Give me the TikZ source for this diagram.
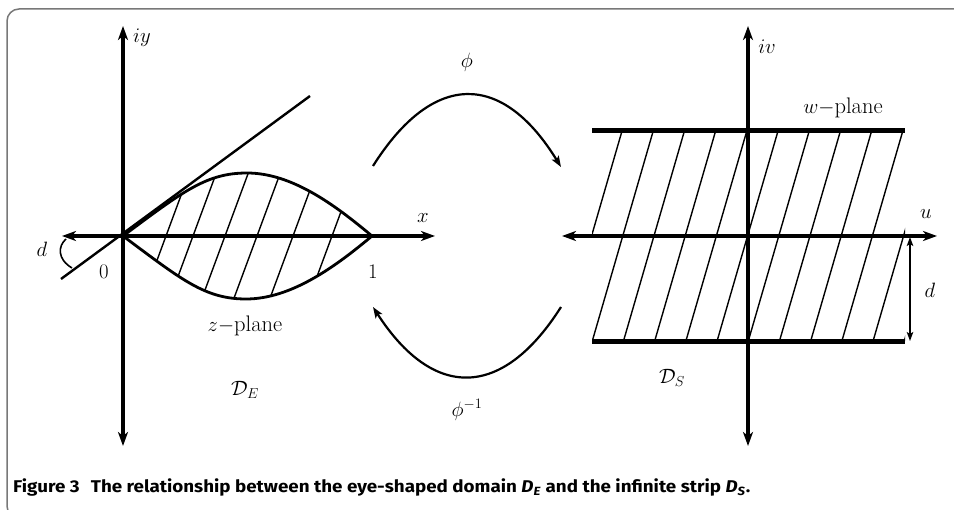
\documentclass[tikz,border=0pt]{standalone}
\usepackage{fontspec}
\usepackage{graphicx}
\usetikzlibrary{arrows.meta}
\newfontfamily\capfont{Fira Sans}
\definecolor{framegray}{RGB}{120,120,120}
\begin{document}
\begin{tikzpicture}[x=1pt,y=-1pt,
  lbl/.style={font=\fontsize{22.5}{26}\selectfont, inner sep=0pt},
  axisline/.style={line width=3.6pt, {Stealth[length=14pt,width=10pt,inset=4pt]}-{Stealth[length=14pt,width=10pt,inset=4pt]}},
  eyeline/.style={line width=2.8pt},
  hatchline/.style={line width=1.4pt},
  stripline/.style={line width=5pt},
  maparc/.style={line width=2.2pt, -{Stealth[length=11pt,width=8pt,inset=2.5pt]}},
  tanline/.style={line width=2.4pt},
  darrow/.style={line width=1.4pt, {Stealth[length=9pt,width=6.5pt,inset=2pt]}-{Stealth[length=9pt,width=6.5pt,inset=2pt]}}
]
\clip (0,0) rectangle (954,510);
\fill[white] (0,0) rectangle (954,510);
% frame
\draw[framegray, line width=1.5pt, rounded corners=12pt] (7,9) rectangle (980,518);

% ---------- left plane ----------
\coordinate (O) at (123,236);
\coordinate (E1) at (372,236);
\coordinate (Top) at (247,173);
\coordinate (Bot) at (246,299);
\coordinate (LyT) at (123,26);
\coordinate (LyB) at (123,446);
\coordinate (LxL) at (62,236);
\coordinate (LxR) at (435,236);
\coordinate (TL) at (61,279);
\coordinate (TR) at (310,96);

\begin{scope}
  \clip (O) .. controls (184,190.5) and (207,173) .. (Top)
        .. controls (292,173) and (335,205) .. (E1)
        .. controls (335,267) and (291,299) .. (Bot)
        .. controls (205,299) and (182,280) .. (O) -- cycle;
  \foreach \xc in {166,193,225,257,293,332}
    \draw[hatchline] ({\xc-33.3},326) -- ({\xc+33.3},146);
\end{scope}
\draw[eyeline] (O) .. controls (184,190.5) and (207,173) .. (Top)
        .. controls (292,173) and (335,205) .. (E1);
\draw[eyeline] (O) .. controls (182,280) and (205,299) .. (Bot)
        .. controls (291,299) and (335,267) .. (E1);
\draw[tanline] (TL) -- (TR);
\draw[axisline] (LxL) -- (LxR);
\draw[axisline] (LyB) -- (LyT);
\coordinate (dA) at (72,268);
\coordinate (dB) at (66,239);
\draw[line width=1.6pt] (dA) .. controls (57,259) and (58,246) .. (dB);

\node[lbl] (liy) at (142,38) {$iy$};
\node[lbl] (lx) at (423,218) {$x$};
\node[lbl] (ld) at (42,249) {$d$};
\node[lbl] (l0) at (104,272) {$0$};
\node[lbl] (l1) at (373,272) {$1$};
\node[lbl] (lz) at (245,326) {$z-$plane};
\node[lbl] (lDE) at (245,390) {$\mathcal{D}_E$};

% ---------- mapping arcs ----------
\coordinate (pA) at (373,166);
\coordinate (pB) at (561,167);
\coordinate (qA) at (561,307);
\coordinate (qB) at (373,307);
\draw[maparc] (pA) .. controls (433,71) and (502,71) .. (pB);
\draw[maparc] (qA) .. controls (502,400) and (433,400) .. (qB);
\node[lbl] (lphi) at (467,62) {$\phi$};
\node[lbl] (lphiinv) at (467,410) {$\phi^{-1}$};

% ---------- right plane ----------
\coordinate (RyT) at (748,26);
\coordinate (RyB) at (748,446);
\coordinate (RxL) at (562,236);
\coordinate (RxR) at (937,236);
\coordinate (S1L) at (592,131);
\coordinate (S1R) at (905,131);
\coordinate (S2L) at (592,342);
\coordinate (S2R) at (905,342);

\begin{scope}
  \clip (S1L) rectangle (S2R);
  \foreach \k in {-2,...,10}
    \draw[hatchline] ({592+31.2*\k},342) -- ({592+31.2*\k+61.2},131);
\end{scope}
\draw[stripline] (S1L) -- (S1R);
\draw[stripline] (S2L) -- (S2R);
\draw[axisline] (RxL) -- (RxR);
\draw[axisline] (RyB) -- (RyT);
\coordinate (dT) at (910,237);
\coordinate (dBt) at (910,341);
\draw[darrow] (dT) -- (dBt);

\node[lbl] (liv) at (767,47) {$iv$};
\node[lbl] (lw) at (843,108) {$w-$plane};
\node[lbl] (lu) at (926,214) {$u$};
\node[lbl] (ld2) at (930,290) {$d$};
\node[lbl] (lDS) at (672,378) {$\mathcal{D}_S$};

% ---------- caption ----------
\node[anchor=base west, inner sep=0pt] (cap) at (13,493)
  {\resizebox{737pt}{\height}{\capfont\bfseries\fontsize{17}{20}\selectfont Figure 3\hspace{0.6em}The relationship between the eye-shaped domain \textit{D}\textsubscript{\textit{E}} and the infinite strip \textit{D}\textsubscript{\textit{S}}.}};
\end{tikzpicture}
\end{document}
